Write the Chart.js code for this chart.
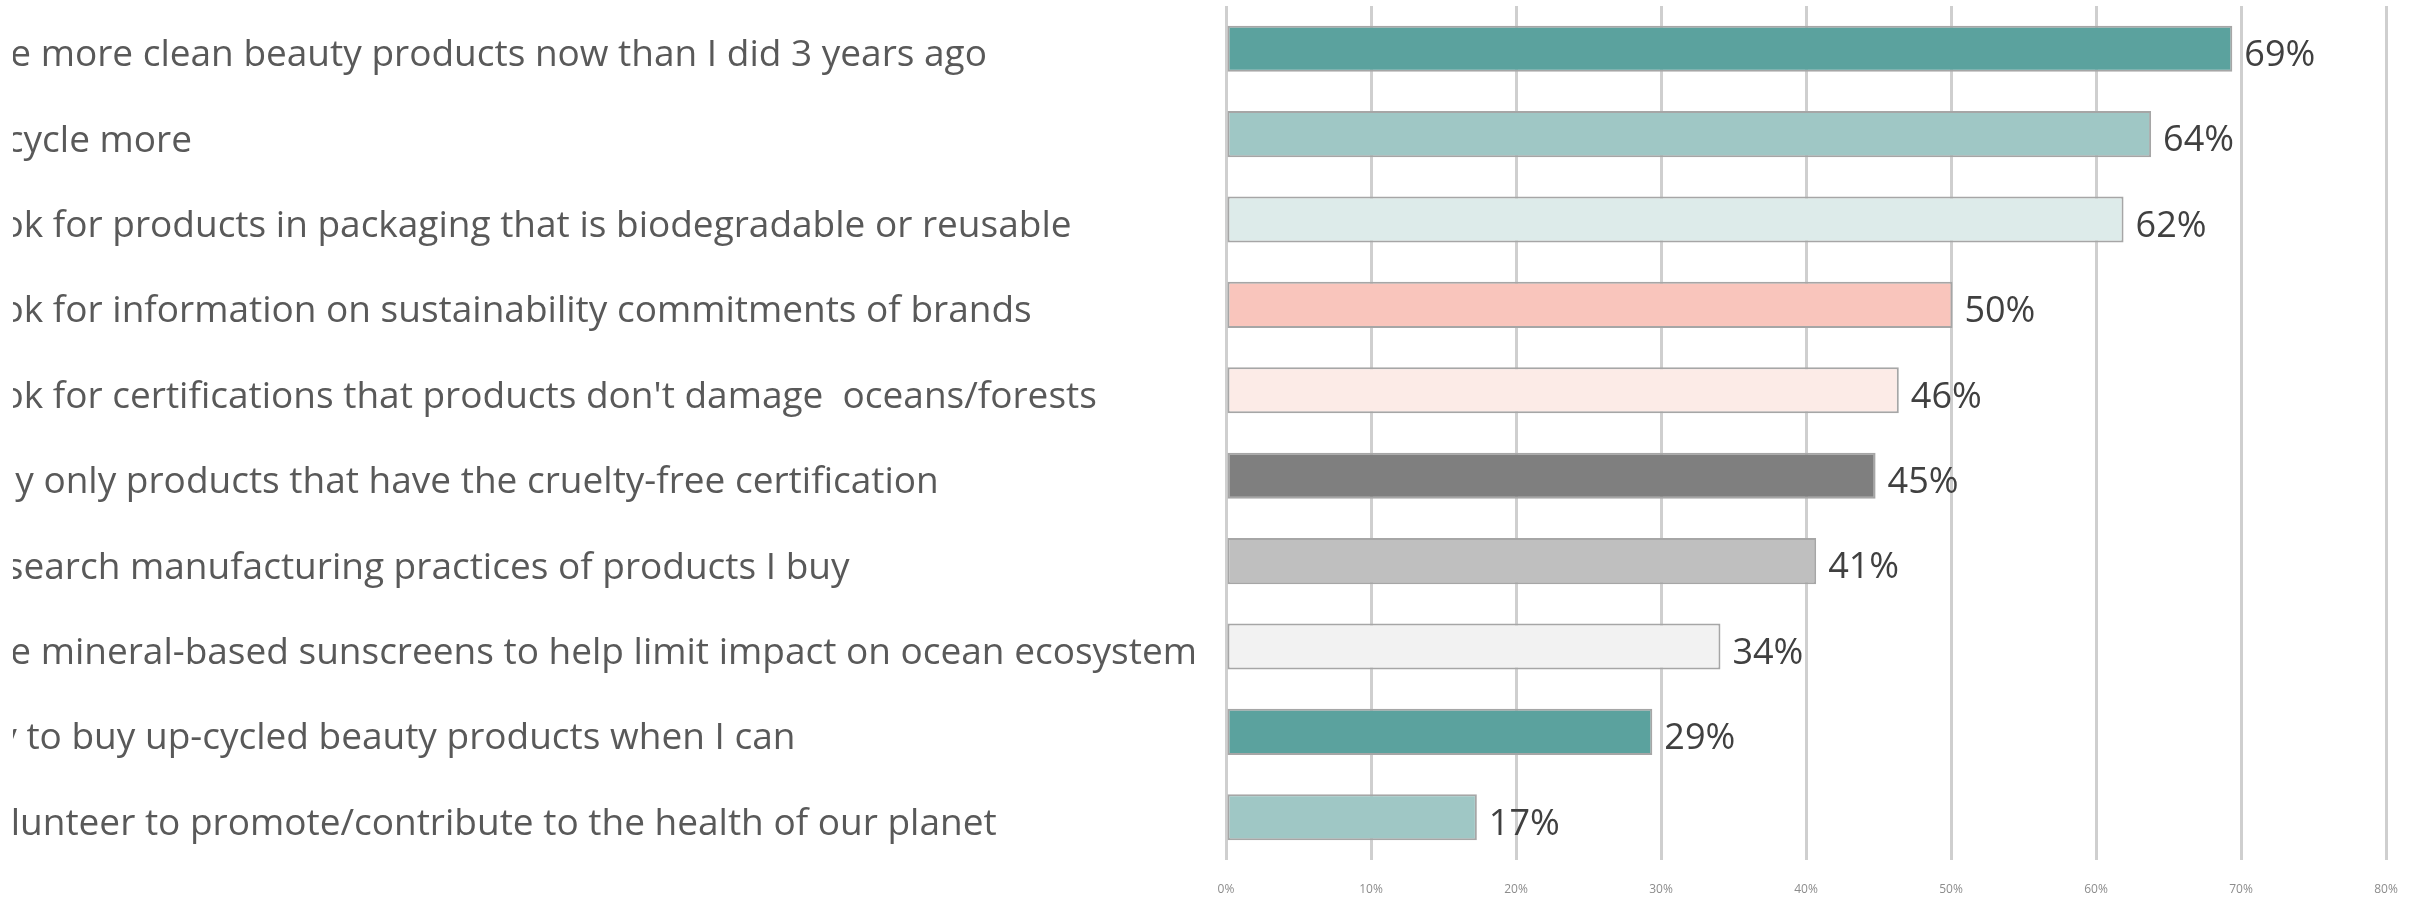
<!DOCTYPE html>
<html><head><meta charset="utf-8">
<script src="https://cdn.jsdelivr.net/npm/chart.js@4/dist/chart.umd.min.js"></script>
<style>
html,body{margin:0;padding:0;background:#fff;overflow:hidden;width:2435px;height:901px;}
#wrap{position:absolute;left:13px;top:0;width:2422px;height:901px;}
</style></head><body><div id="wrap"><canvas id="c" width="2422" height="901"></canvas></div>
<script>
const categories = [
  "I use more clean beauty products now than I did 3 years ago",
  "I recycle more",
  "I look for products in packaging that is biodegradable or reusable",
  "I look for information on sustainability commitments of brands",
  "I look for certifications that products don't damage  oceans/forests",
  "I buy only products that have the cruelty-free certification",
  "I research manufacturing practices of products I buy",
  "I use mineral-based sunscreens to help limit impact on ocean ecosystem",
  "I try to buy up-cycled beauty products when I can",
  "I volunteer to promote/contribute to the health of our planet"
];
const values = [69.4, 63.8, 61.9, 50.1, 46.4, 44.8, 40.7, 34.1, 29.4, 17.3];
const barColors = ["#5ba29e", "#9fc7c5", "#ddebea", "#f9c5bc", "#fcebe7", "#7f7f7f", "#bfbfbf", "#f2f2f2", "#5ba29e", "#9fc7c5"];
const tickLabels = ["0%", "10%", "20%", "30%", "40%", "50%", "60%", "70%", "80%"];

const valueLabels = {
  id: 'valueLabels',
  afterDatasetsDraw(chart) {
    const ctx = chart.ctx;
    const meta = chart.getDatasetMeta(0);
    ctx.save();
    ctx.font = '36px "Open Sans"';
    ctx.fillStyle = '#404040';
    ctx.textBaseline = 'middle';
    ctx.textAlign = 'left';
    meta.data.forEach((bar, i) => {
      ctx.fillText(Math.round(values[i]) + '%', bar.x + 12, bar.y + 7);
    });
    ctx.restore();
  }
};

new Chart(document.getElementById('c'), {
  type: 'bar',
  data: {
    labels: categories,
    datasets: [{
      data: values,
      backgroundColor: barColors,
      borderColor: '#a6a6a6',
      borderWidth: 2,
      borderSkipped: false,
      categoryPercentage: 1,
      barPercentage: 0.54
    }]
  },
  options: {
    indexAxis: 'y',
    responsive: false,
    animation: false,
    layout: { padding: { top: 6, right: 49, bottom: 0, left: -63 } },
    plugins: { legend: { display: false }, tooltip: { enabled: false } },
    scales: {
      x: {
        min: 0, max: 80,
        ticks: {
          stepSize: 10,
          callback: (v, i) => tickLabels[i],
          font: { family: 'Open Sans', size: 12 },
          color: '#8c8c8c',
          padding: 22,
          maxRotation: 0
        },
        grid: { color: '#cfcfcf', lineWidth: 3, drawTicks: false },
        border: { display: false },
        afterFit(s) { s.height = 41; s.paddingLeft = 0; s.paddingRight = 0; }
      },
      y: {
        ticks: {
          crossAlign: 'far',
          font: { family: 'Open Sans', size: 37 },
          color: '#595959',
          padding: 0,
          labelOffset: 7,
          autoSkip: false
        },
        grid: { display: false, drawTicks: false },
        border: { display: false },
        afterFit(s) { s.width = 1276; s.paddingTop = 0; s.paddingBottom = 0; }
      }
    }
  },
  plugins: [valueLabels]
});
</script></body></html>
